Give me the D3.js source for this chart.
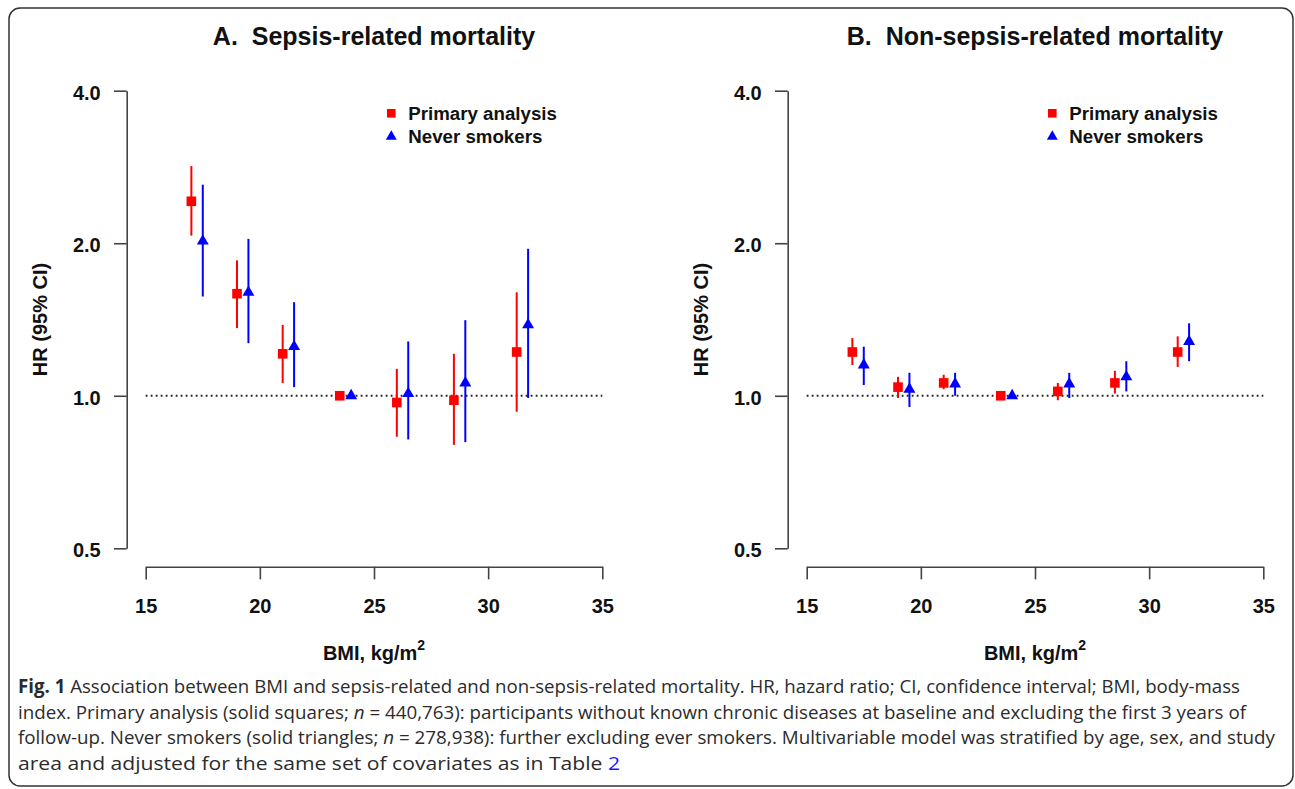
<!DOCTYPE html>
<html>
<head>
<meta charset="utf-8">
<script src="https://d3js.org/d3.v7.min.js"></script>
<style>
  body { margin: 0; background: #fff; }
  svg { display: block; }
</style>
</head>
<body>
<svg width="1295" height="789"></svg>
<script>
// BMI positions of the points (reference group at 23.5)
const bmiPrimary = [17, 19, 21, 23.5, 26, 28.5, 31.25];
const bmiNever = [17.5, 19.5, 21.5, 24, 26.5, 29, 31.75];

// A. sepsis-related mortality
const sepsisPrimaryHR = [2.42, 1.59, 1.21, 1.00, 0.97, 0.98, 1.22];
const sepsisPrimaryLo = [2.07, 1.36, 1.06, null, 0.83, 0.80, 0.93];
const sepsisPrimaryHi = [2.84, 1.85, 1.38, null, 1.13, 1.21, 1.60];
const sepsisNeverHR = [2.02, 1.60, 1.25, 1.00, 1.01, 1.06, 1.38];
const sepsisNeverLo = [1.57, 1.27, 1.04, null, 0.82, 0.81, 0.99];
const sepsisNeverHi = [2.61, 2.04, 1.53, null, 1.28, 1.41, 1.95];

// B. non-sepsis-related mortality
const otherPrimaryHR = [1.22, 1.04, 1.06, 1.00, 1.02, 1.06, 1.22];
const otherPrimaryLo = [1.15, 0.99, 1.03, null, 0.98, 1.01, 1.14];
const otherPrimaryHi = [1.30, 1.09, 1.10, null, 1.06, 1.12, 1.31];
const otherNeverHR = [1.15, 1.03, 1.055, 1.00, 1.055, 1.09, 1.28];
const otherNeverLo = [1.05, 0.95, 1.00, null, 0.99, 1.02, 1.17];
const otherNeverHi = [1.25, 1.11, 1.11, null, 1.11, 1.17, 1.39];

const yTicks = [0.5, 1, 2, 4];
const xTicks = [15, 20, 25, 30, 35];
const panelTitles = ["A.\u00a0 Sepsis-related mortality", "B.\u00a0 Non-sepsis-related mortality"];
const legendLabels = ["Primary analysis", "Never smokers"];

const svg = d3.select("svg");
const font = "'Liberation Sans', Arial, sans-serif";
const red = "#ff0000";
const blue = "#0000ff";

// border round the figure
svg.append("rect")
  .attr("x", 9).attr("y", 8)
  .attr("width", 1284).attr("height", 778)
  .attr("rx", 11)
  .attr("fill", "none")
  .attr("stroke", "#333")
  .attr("stroke-width", 1.5);

// log2 scale shared by both panels
const y = d3.scaleLog().base(2)
  .domain([0.5, 4])
  .range([548.3, 90.7]);

// build series rows from the arrays
const rows = (bmi, hr, lo, hi) => bmi.map((b, i) => ({bmi: b, hr: hr[i], lo: lo[i], hi: hi[i]}));

function drawPanel(left, title, primary, never) {
  const g = svg.append("g");

  const x = d3.scaleLinear()
    .domain([15, 35])
    .range([left + 19, left + 475.6]);

  // axes
  const yAxis = d3.axisLeft(y)
    .tickValues(yTicks)
    .tickFormat(d3.format(".1f"))
    .tickSize(12.7)
    .tickSizeOuter(0)
    .tickPadding(13.3);
  const xAxis = d3.axisBottom(x)
    .tickValues(xTicks)
    .tickSize(12.7)
    .tickSizeOuter(0)
    .tickPadding(19);

  const yAxisGroup = g.append("g")
    .attr("transform", `translate(${left},0)`)
    .call(yAxis);
  const xAxisGroup = g.append("g")
    .attr("transform", "translate(0,566.7)")
    .call(xAxis);

  [yAxisGroup, xAxisGroup].forEach(ax => {
    ax.attr("font-family", font).attr("font-size", 20).attr("font-weight", "bold");
    ax.selectAll("path, line").attr("stroke", "#444").attr("stroke-width", 1.6);
    ax.selectAll("text").attr("fill", "#111");
  });
  yAxisGroup.selectAll("text").attr("dy", "0.43em");

  // titles and axis labels
  g.append("text")
    .attr("x", x(25)).attr("y", 45)
    .attr("text-anchor", "middle")
    .attr("font-family", font).attr("font-size", 25).attr("font-weight", "bold")
    .attr("fill", "#111")
    .text(title);

  const xLabel = g.append("text")
    .attr("x", x(25)).attr("y", 659.5)
    .attr("text-anchor", "middle")
    .attr("font-family", font).attr("font-size", 20).attr("font-weight", "bold")
    .attr("fill", "#111");
  xLabel.append("tspan").text("BMI, kg/m");
  xLabel.append("tspan").attr("dy", -10).attr("font-size", 14).text("2");

  g.append("text")
    .attr("transform", `translate(${left - 80},${y(Math.SQRT2)}) rotate(-90)`)
    .attr("text-anchor", "middle")
    .attr("font-family", font).attr("font-size", 20).attr("font-weight", "bold")
    .attr("fill", "#111")
    .text("HR (95% CI)");

  // reference line at HR = 1
  g.append("line")
    .attr("x1", x(15)).attr("x2", x(35))
    .attr("y1", y(1)).attr("y2", y(1))
    .attr("stroke", "#222")
    .attr("stroke-width", 2)
    .attr("stroke-dasharray", "1.8 3.2");

  // confidence intervals
  const ciRows = primary.map(d => ({...d, c: red})).concat(never.map(d => ({...d, c: blue})))
    .filter(d => d.lo !== null);
  g.selectAll("line.ci")
    .data(ciRows)
    .enter()
    .append("line")
    .attr("class", "ci")
    .attr("x1", d => x(d.bmi)).attr("x2", d => x(d.bmi))
    .attr("y1", d => y(d.lo)).attr("y2", d => y(d.hi))
    .attr("stroke", d => d.c)
    .attr("stroke-width", 2);

  // point estimates
  g.selectAll("rect.pt")
    .data(primary)
    .enter()
    .append("rect")
    .attr("class", "pt")
    .attr("x", d => x(d.bmi) - 4.8).attr("y", d => y(d.hr) - 4.8)
    .attr("width", 9.6).attr("height", 9.6)
    .attr("fill", red);

  const tri = d3.symbol().type(d3.symbolTriangle).size(62);
  g.selectAll("path.pt")
    .data(never)
    .enter()
    .append("path")
    .attr("class", "pt")
    .attr("d", tri)
    .attr("transform", d => `translate(${x(d.bmi)},${y(d.hr)})`)
    .attr("fill", blue);

  // legend
  const lx = left + 264.6;
  g.append("rect")
    .attr("x", lx - 4.3).attr("y", 113.3 - 4.3)
    .attr("width", 8.6).attr("height", 8.6)
    .attr("fill", red);
  g.append("path")
    .attr("d", d3.symbol().type(d3.symbolTriangle).size(52))
    .attr("transform", `translate(${lx},136.5)`)
    .attr("fill", blue);
  g.selectAll("text.legend")
    .data(legendLabels)
    .enter()
    .append("text")
    .attr("class", "legend")
    .attr("x", lx + 17).attr("y", (d, i) => 120 + i * 22.5)
    .attr("font-family", font).attr("font-size", 18.7).attr("font-weight", "bold")
    .attr("fill", "#111")
    .text(d => d);
}

drawPanel(126.7, panelTitles[0],
  rows(bmiPrimary, sepsisPrimaryHR, sepsisPrimaryLo, sepsisPrimaryHi),
  rows(bmiNever, sepsisNeverHR, sepsisNeverLo, sepsisNeverHi));
drawPanel(787.7, panelTitles[1],
  rows(bmiPrimary, otherPrimaryHR, otherPrimaryLo, otherPrimaryHi),
  rows(bmiNever, otherNeverHR, otherNeverLo, otherNeverHi));

// caption below the figure
const captionLines = [
  [{t: "Fig. 1", w: "bold"}, {t: " Association between BMI and sepsis-related and non-sepsis-related mortality. HR, hazard ratio; CI, confidence interval; BMI, body-mass"}],
  [{t: "index. Primary analysis (solid squares; "}, {t: "n", s: "italic"}, {t: "\u00a0=\u00a0440,763): participants without known chronic diseases at baseline and excluding the first 3 years of"}],
  [{t: "follow-up. Never smokers (solid triangles; "}, {t: "n", s: "italic"}, {t: "\u00a0=\u00a0278,938): further excluding ever smokers. Multivariable model was stratified by age, sex, and study"}],
  [{t: "area and adjusted for the same set of covariates as in Table "}, {t: "2", c: "#1a1aff"}]
];
const captionWidths = [1222, 1228, 1257, 602];

const captionTexts = captionLines.map((parts, i) => {
  const line = svg.append("text")
    .attr("x", 18).attr("y", 693 + i * 25.5)
    .attr("font-family", "'Open Sans', 'Noto Sans', sans-serif")
    .attr("font-size", 16)
    .attr("fill", "#2b2b2b");
  parts.forEach(p => {
    line.append("tspan")
      .attr("font-weight", p.w || "normal")
      .attr("font-style", p.s || "normal")
      .attr("fill", p.c || "#2b2b2b")
      .text(p.t);
  });
  return line;
});

// pick one font size that fits the full lines, then fit each line exactly
const ratio = d3.mean(captionTexts.slice(0, 3), (t, i) => captionWidths[i] / t.node().getComputedTextLength());
captionTexts.forEach((t, i) => {
  t.attr("font-size", 16 * ratio)
    .attr("textLength", captionWidths[i])
    .attr("lengthAdjust", "spacingAndGlyphs");
});
</script>
</body>
</html>
